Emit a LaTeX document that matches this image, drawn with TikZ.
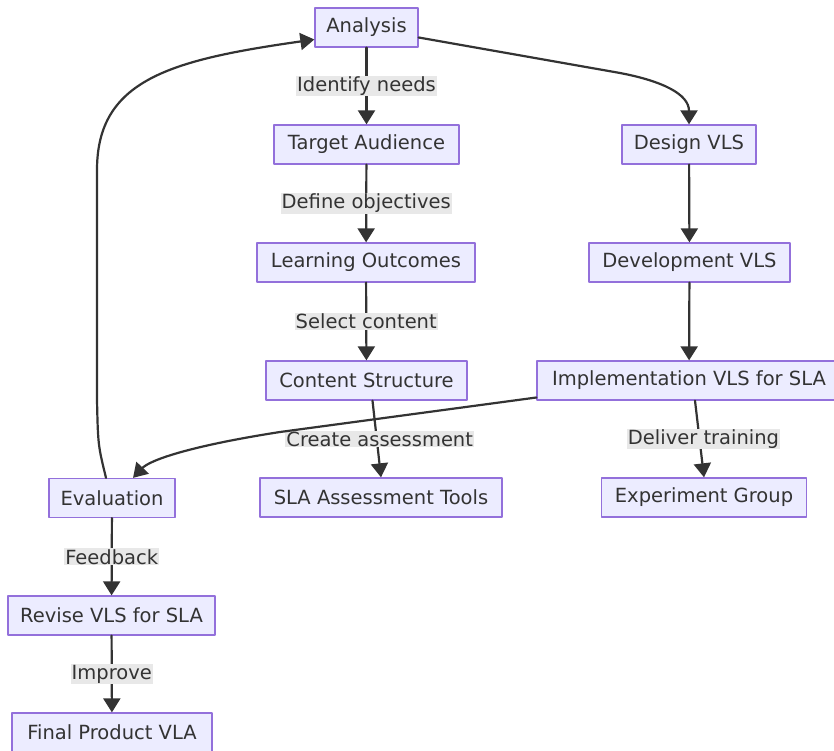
\documentclass[tikz,border=0pt]{standalone}
\usepackage{fontspec}
\setmainfont{DejaVu Sans}
\usepackage{xcolor}
\usetikzlibrary{arrows.meta}
\definecolor{boxfill}{HTML}{ECECFF}
\definecolor{boxline}{HTML}{9370DB}
\definecolor{ink}{HTML}{333333}
\definecolor{lblfill}{HTML}{E8E8E8}
\tikzset{
  every picture/.style={line join=round, line cap=round, >={Triangle[length=14pt,width=17pt]}},
  box/.style={draw=boxline, fill=boxfill, text=ink, line width=1.3pt, minimum height=39pt, inner sep=0pt, font=\fontsize{19.5}{23}\selectfont},
  flow/.style={draw=ink, line width=2.2pt, ->},
  lbl/.style={fill=lblfill, text=ink, inner sep=1pt, font=\fontsize{19.5}{23}\selectfont},
}

\begin{document}
\begin{tikzpicture}[x=1pt,y=-1pt]
\useasboundingbox (0,0) rectangle (834,751);
\fill[white] (0,0) rectangle (834,751);
\clip (0,0) rectangle (834,751);
% boxes
\node[box, minimum width=103pt] (ana) at (366.5,27.5) {Analysis};
\node[box, minimum width=185pt] (tar) at (366.5,144.5) {Target Audience};
\node[box, minimum width=218pt] (lea) at (366,262.5) {Learning Outcomes};
\node[box, minimum width=201pt] (con) at (366.5,380.5) {Content Structure};
\node[box, minimum width=242pt] (sla) at (381,497.5) {SLA Assessment Tools};
\node[box, minimum width=134pt] (des) at (689,144.5) {Design VLS};
\node[box, minimum width=201pt] (dev) at (689.5,262.5) {Development VLS};
\node[box, minimum width=304pt] (imp) at (689,380.5) {Implementation VLS for SLA};
\node[box, minimum width=205pt] (exg) at (704,497.5) {Experiment Group};
\node[box, minimum width=126pt] (eva) at (112,498) {Evaluation};
\node[box, minimum width=207pt] (rev) at (111.5,615.5) {Revise VLS for SLA};
\node[box, minimum width=200pt] (fin) at (112,732.5) {Final Product VLA};
% left column of steps
\draw[flow] (ana) -- node[lbl]{Identify needs} (tar);
\draw[flow] (tar) -- node[lbl]{Define objectives} (lea);
\draw[flow] (lea) -- node[lbl]{Select content} (con);
\draw[flow] ([xshift=6pt]con.south) -- node[lbl, xshift=3pt]{Create assessment} (sla.north);
% right column of steps
\draw[flow] ([yshift=-10pt]ana.east) -- (620,73) .. controls (662,81) and (689,94) .. (des.north);
\draw[flow] (des) -- (dev);
\draw[flow] (dev) -- (imp);
\draw[flow] ([xshift=6pt]imp.south) -- node[lbl, xshift=4pt]{Deliver training} (exg.north);
% evaluation loop
\draw[flow] ([yshift=-17pt]imp.west) -- (280,432) .. controls (190,446) and (150,460) .. ([xshift=21pt]eva.north);
\draw[flow] ([xshift=-6pt]eva.north) .. controls (98,445) .. (97,400) -- (97,170) .. controls (97,80) and (170,60) .. ([yshift=-12pt]ana.west);
\draw[flow] (eva) -- node[lbl]{Feedback} (rev);
\draw[flow] (rev) -- node[lbl]{Improve} (fin);
\end{tikzpicture}
\end{document}
